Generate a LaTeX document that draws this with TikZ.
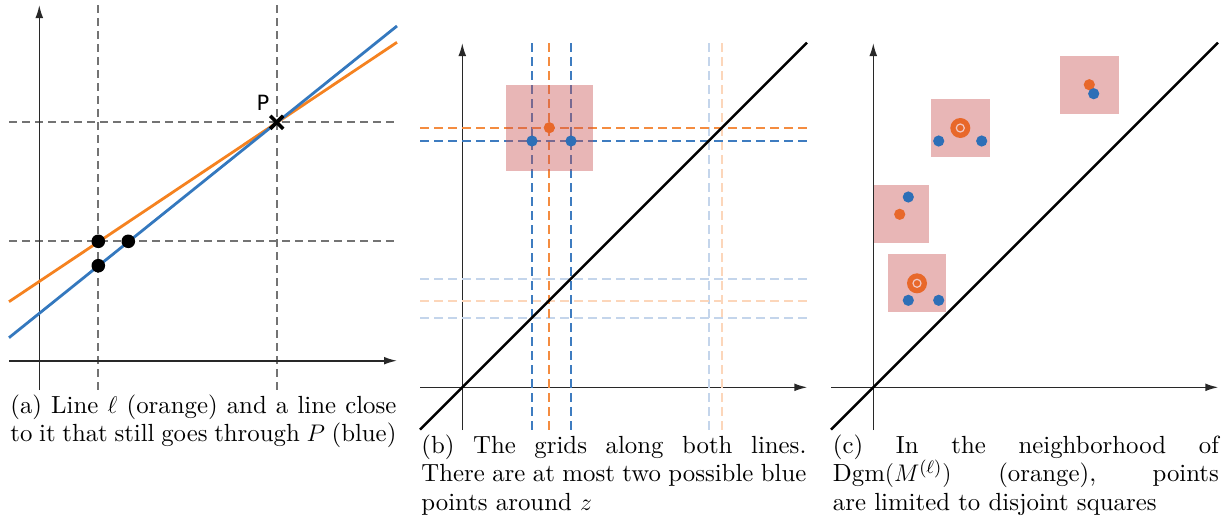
\documentclass[tikz,border=0pt]{standalone}
\usepackage{fontspec}
\setmainfont{lmroman10}[Extension=.otf, UprightFont=*-regular, ItalicFont=*-italic, BoldFont=*-bold]
\newfontfamily\dejavu{DejaVu Sans}
\usetikzlibrary{arrows.meta,calc}
\definecolor{cOrange}{RGB}{245,130,32}
\definecolor{cBlue}{RGB}{52,120,190}
\definecolor{dOrange}{RGB}{232,104,42}
\definecolor{dBlue}{RGB}{45,111,183}
\definecolor{mOrange}{RGB}{244,140,64}
\definecolor{mBlue}{RGB}{62,124,192}
\definecolor{sqcol}{RGB}{200,80,80}
\definecolor{lBlue}{RGB}{196,213,235}
\definecolor{lOrange}{RGB}{252,214,186}
\definecolor{ringcol}{RGB}{242,200,195}
\definecolor{gridgray}{RGB}{115,115,115}
\definecolor{axisgray}{RGB}{40,40,40}
\newcommand{\capfont}{\fontsize{12.4}{14.4}\selectfont}
\begin{document}
\begin{tikzpicture}[x=0.5pt,y=-0.5pt,
  axis/.style={line width=0.8pt, draw=axisgray, -{Latex[length=6.5pt,width=3.9pt]}},
  graydash/.style={line width=0.85pt, draw=gridgray, dash pattern=on 4pt off 2.5pt},
  bdash/.style={line width=0.9pt, draw=mBlue, dash pattern=on 4.5pt off 2.5pt},
  odash/.style={line width=0.9pt, draw=mOrange, dash pattern=on 4.5pt off 2.5pt},
  lbdash/.style={line width=0.9pt, draw=lBlue, dash pattern=on 4.5pt off 2.5pt},
  lodash/.style={line width=0.9pt, draw=lOrange, dash pattern=on 4.5pt off 2.5pt},
  diag/.style={line width=1.2pt, draw=black},
  sq/.style={fill=sqcol, fill opacity=0.42, draw=none},
  bdot/.style={fill=dBlue, draw=none},
  odot/.style={fill=dOrange, draw=none},
  captext/.style={anchor=base west, inner sep=0pt}
]
\useasboundingbox (0,0) rectangle (1231,521);

% ---------------- Panel (a) ----------------
\coordinate (P) at (276.7,122.3);
\draw[graydash] (98.3,5) -- (98.3,390);
\draw[graydash] (276.7,5) -- (276.7,390);
\draw[graydash] (9,122.3) -- (397,122.3);
\draw[graydash] (9,241.3) -- (397,241.3);
\draw[axis] (39.3,390) -- (39.3,5);
\draw[axis] (9,360.7) -- (397,360.7);
\draw[line width=1.4pt, cOrange] (9,301.7) -- (397,42.3);
\draw[line width=1.4pt, cBlue] (9,337.7) -- (397,26);
\fill (98.3,241.3) circle[radius=3.4pt];
\fill (128.3,241.3) circle[radius=3.4pt];
\fill (98.3,265.7) circle[radius=3.4pt];
\draw[line width=1.8pt] ($(P)+(-6.5,-6.5)$) -- ($(P)+(6.5,6.5)$);
\draw[line width=1.8pt] ($(P)+(-6.5,6.5)$) -- ($(P)+(6.5,-6.5)$);
\node[font=\dejavu\fontsize{10.5}{11}\selectfont, inner sep=0pt] (Plab) at (263,103) {P};
\node[captext] (capa) at (10,413) {\parbox[t]{193pt}{\capfont (a) Line $\ell$ (orange) and a line close\linebreak to it that still goes through $P$ (blue)}};

% ---------------- Panel (b) ----------------
\draw[axis] (462.3,430) -- (462.3,43);
\draw[axis] (420,387.3) -- (807.3,387.3);
\draw[lbdash] (709,43) -- (709,430);
\draw[lodash] (722,43) -- (722,430);
\draw[lbdash] (420,278.7) -- (807,278.7);
\draw[lodash] (420,300.7) -- (807,300.7);
\draw[lbdash] (420,317.7) -- (807,317.7);
\draw[bdash] (532,43) -- (532,430);
\draw[bdash] (571,43) -- (571,430);
\draw[odash] (549.3,43) -- (549.3,430);
\draw[odash] (420,127.7) -- (807,127.7);
\draw[bdash] (420,141) -- (807,141);
\draw[diag] (420,429.6) -- (807,42.6);
\path[sq] (506,85) rectangle (592.7,171);
\fill[odot] (549.3,127.7) circle[radius=2.8pt];
\fill[bdot] (532,141) circle[radius=2.8pt];
\fill[bdot] (571,141) circle[radius=2.8pt];
\node[captext] (capb) at (421,453) {\parbox[t]{192.5pt}{\capfont (b) The grids along both lines.\linebreak There are at most two possible blue\linebreak points around $z$}};

% ---------------- Panel (c) ----------------
\draw[axis] (873.3,430) -- (873.3,43);
\draw[axis] (831,387.3) -- (1218.3,387.3);
\draw[diag] (831,429.6) -- (1218,42.6);
\path[sq] (1060.3,56) rectangle (1118.7,114.3);
\path[sq] (931,99) rectangle (989.7,157.3);
\path[sq] (873.7,185) rectangle (929,243.3);
\path[sq] (888,254) rectangle (946.3,312.3);
% square 1
\fill[odot] (1089.3,84.7) circle[radius=2.8pt];
\fill[bdot] (1093.7,93.7) circle[radius=2.8pt];
% square 2
\fill[odot] (960.3,128) circle[radius=5pt];
\draw[ringcol, line width=0.6pt] (960.3,128) circle[radius=2pt];
\fill[bdot] (938.7,141) circle[radius=2.8pt];
\fill[bdot] (981.7,141) circle[radius=2.8pt];
% square 3
\fill[bdot] (908.3,197) circle[radius=2.8pt];
\fill[odot] (899.7,214.3) circle[radius=2.8pt];
% square 4
\fill[odot] (917,283.3) circle[radius=5pt];
\draw[ringcol, line width=0.6pt] (917,283.3) circle[radius=2pt];
\fill[bdot] (908.3,300.3) circle[radius=2.8pt];
\fill[bdot] (938.7,300.3) circle[radius=2.8pt];
\node[captext] (capc) at (832.5,453) {\parbox[t]{193pt}{\capfont (c) In the neighborhood of\linebreak Dgm$(M^{(\ell)})$ (orange), points\linebreak are limited to disjoint squares}};
\end{tikzpicture}
\end{document}
